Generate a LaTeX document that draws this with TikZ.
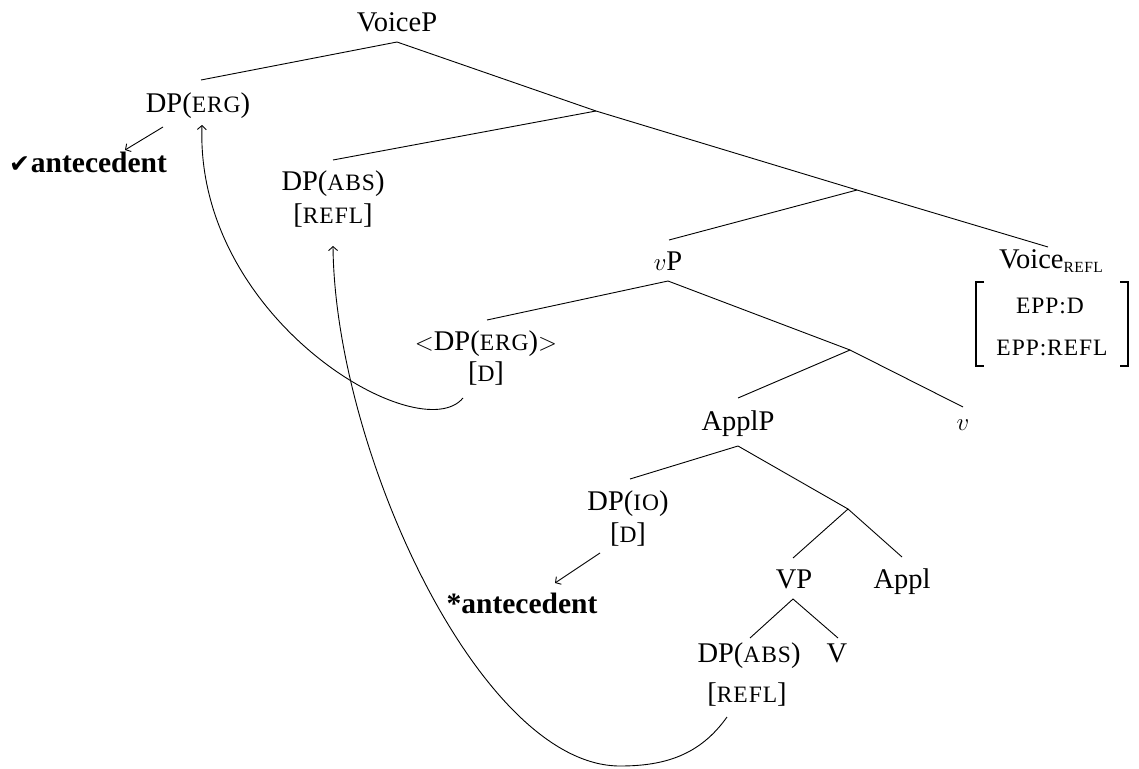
\documentclass[tikz,border=0pt]{standalone}
\usepackage{fontspec}
\setmainfont{Liberation Serif}
\newfontfamily\symfont{DejaVu Sans}
\usetikzlibrary{arrows.meta}
\newcommand\smc[1]{{\fontsize{23.5}{23.5}\selectfont\addfontfeature{LetterSpace=4}#1}}
\newcommand\subsc[1]{{\fontsize{15.5}{15.5}\selectfont\addfontfeature{LetterSpace=3}#1}}
\begin{document}
\begin{tikzpicture}[x=1pt,y=-1pt,
  every node/.style={inner sep=0pt, anchor=base, font=\fontsize{28.5}{34}\selectfont},
  ant/.style={font=\fontsize{29.5}{34}\selectfont\bfseries},
  edge/.style={line width=0.9pt},
  arr/.style={line width=0.9pt, -{Straight Barb[length=4pt,width=9pt]}},
  brk/.style={line width=1.4pt}]
\useasboundingbox (0,0) rectangle (1139,768);

% labels
\node (VoiceP) at (397,32) {VoiceP};
\node (DPerg) at (198,112) {DP(\smc{ERG})};
\node[ant] (antA) at (88,172) {{\symfont\fontsize{25}{25}\selectfont ✔}\kern1pt antecedent};
\node (DPabs) at (333,190) {DP(\smc{ABS})};
\node (REFLa) at (333,223) {[\smc{REFL}]};
\node (vP) at (668,270) {$v$P};
\node (Voice) at (1051,268) {Voice\raisebox{-4pt}{\subsc{REFL}}};
\node (EPPD) at (1050,313) {\smc{EPP:D}};
\node (EPPR) at (1052,355) {\smc{EPP:REFL}};
\node (DPergL) at (486,350) {$<$DP(\smc{ERG})$>$};
\node (Da) at (486,381) {[\smc{D}]};
\node (ApplP) at (738,430) {ApplP};
\node (v) at (963,430) {$v$};
\node (DPio) at (628,510) {DP(\smc{IO})};
\node (Db) at (628,542) {[\smc{D}]};
\node[ant] (antB) at (522,613) {*antecedent};
\node (VP) at (794,588) {VP};
\node (Appl) at (902,588) {Appl};
\node (DPabsL) at (749,662) {DP(\smc{ABS})};
\node (REFLb) at (747,702) {[\smc{REFL}]};
\node (V) at (837,662) {V};

% tree coordinates
\coordinate (VoicePb) at (397,42);
\coordinate (DPergT) at (201,80);
\coordinate (X1) at (596,111);
\coordinate (DPabsT) at (333,160);
\coordinate (X2) at (857,190);
\coordinate (vPT) at (669,240);
\coordinate (VoiceT) at (1048,247);
\coordinate (vPb) at (668,281);
\coordinate (DPergLT) at (487,320);
\coordinate (X3) at (850,350);
\coordinate (ApplPT) at (738,398);
\coordinate (vT) at (963,407);
\coordinate (ApplPb) at (738,446);
\coordinate (DPioT) at (630,479);
\coordinate (X4) at (848,509);
\coordinate (VPT) at (793,558);
\coordinate (ApplT) at (902,557);
\coordinate (VPb) at (793,599);
\coordinate (DPabsLT) at (750,638);
\coordinate (VT) at (838,638);

\draw[edge] (DPergT) -- (VoicePb) -- (X1);
\draw[edge] (DPabsT) -- (X1) -- (X2);
\draw[edge] (vPT) -- (X2) -- (VoiceT);
\draw[edge] (DPergLT) -- (vPb) -- (X3);
\draw[edge] (ApplPT) -- (X3) -- (vT);
\draw[edge] (DPioT) -- (ApplPb) -- (X4);
\draw[edge] (VPT) -- (X4) -- (ApplT);
\draw[edge] (DPabsLT) -- (VPb) -- (VT);

% feature bracket
\draw[brk] (984,282) -- (976,282) -- (976,366) -- (984,366);
\draw[brk] (1120,282) -- (1128,282) -- (1128,366) -- (1120,366);

% arrows
\coordinate (aAs) at (163,127);
\coordinate (aAe) at (125,150);
\draw[arr] (aAs) -- (aAe);
\coordinate (aBs) at (600,553);
\coordinate (aBe) at (555,583);
\draw[arr] (aBs) -- (aBe);

% movement curves
\coordinate (cAs) at (463,398);
\coordinate (cAe) at (202,125);
\draw[arr] (cAs) .. controls (420,450) and (195,320) .. (cAe);
\coordinate (cBs) at (727,717);
\coordinate (cBm) at (620,766);
\coordinate (cBe) at (333,246);
\draw[arr] (cBs) .. controls (700,755) and (665,766) .. (cBm)
  .. controls (480,766) and (335,450) .. (cBe);
\end{tikzpicture}
\end{document}
